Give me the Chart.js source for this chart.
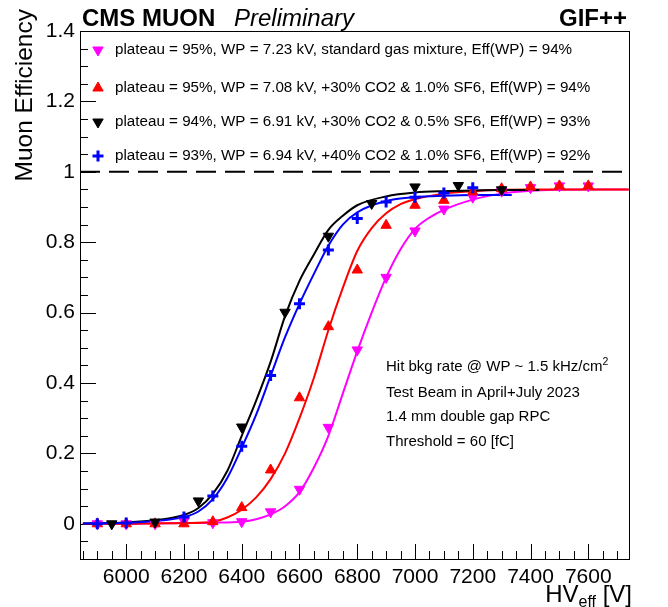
<!DOCTYPE html>
<html><head><meta charset="utf-8">
<script src="https://cdn.jsdelivr.net/npm/chart.js@4.4.0/dist/chart.umd.min.js"></script>
<style>html,body{margin:0;padding:0;background:#fff;}canvas{display:block;}</style>
</head><body>
<canvas id="c" width="668" height="607"></canvas>
<script>
// ---- measured points ----
const magentaHV  = [5900,6000,6100,6200,6300,6400,6500,6600,6700,6800,6900,7000,7100,7200,7300,7400,7500,7600];
const magentaEff = [0.000,0.000,0.000,0.008,0.003,0.006,0.034,0.098,0.274,0.494,0.700,0.832,0.894,0.928,0.945,0.955,0.960,0.960];
const redHV  = [5900,6000,6100,6200,6300,6400,6500,6600,6700,6800,6900,7000,7100,7200,7300,7400,7500,7600];
const redEff = [0.000,0.000,0.000,0.000,0.006,0.046,0.153,0.358,0.560,0.721,0.848,0.905,0.919,0.943,0.952,0.957,0.960,0.960];
const blackHV  = [5950,6100,6250,6400,6550,6700,6850,7000,7150,7300];
const blackEff = [0.000,0.005,0.065,0.275,0.601,0.817,0.910,0.957,0.961,0.949];
const blueHV  = [5900,6000,6200,6300,6400,6500,6600,6700,6800,6900,7000,7100,7200];
const blueEff = [0.000,0.002,0.019,0.079,0.220,0.421,0.625,0.778,0.867,0.914,0.928,0.940,0.955];

// ---- fit curves ----
const magentaFitHV  = [5850,6000,6100,6200,6300,6400,6450,6500,6550,6600,6650,6700,6750,6800,6850,6900,6950,7000,7050,7100,7200,7300,7400,7500,7600,7740];
const magentaFitEff = [0.000,0.000,0.001,0.002,0.003,0.006,0.013,0.027,0.050,0.090,0.160,0.250,0.370,0.490,0.600,0.700,0.780,0.838,0.870,0.892,0.921,0.938,0.946,0.949,0.950,0.950];
const redFitHV  = [5850,6000,6100,6200,6300,6350,6400,6450,6500,6550,6600,6650,6700,6750,6800,6850,6900,6950,7000,7100,7200,7300,7400,7500,7600,7740];
const redFitEff = [0.000,0.000,0.001,0.002,0.006,0.018,0.040,0.075,0.127,0.200,0.300,0.415,0.550,0.670,0.775,0.840,0.882,0.908,0.922,0.938,0.945,0.949,0.950,0.950,0.950,0.950];
const blackFitHV  = [5850,6000,6100,6200,6250,6300,6350,6400,6450,6500,6550,6600,6650,6700,6750,6800,6900,7000,7100,7200,7300,7430];
const blackFitEff = [0.001,0.004,0.010,0.025,0.045,0.085,0.150,0.250,0.350,0.460,0.590,0.690,0.765,0.835,0.875,0.905,0.930,0.941,0.945,0.947,0.948,0.948];
const blueFitHV  = [5850,6000,6100,6200,6250,6300,6350,6400,6450,6500,6550,6600,6650,6700,6750,6800,6900,7000,7100,7200,7335];
const blueFitEff = [0.001,0.003,0.008,0.019,0.035,0.070,0.130,0.216,0.310,0.420,0.530,0.625,0.710,0.790,0.850,0.885,0.917,0.928,0.932,0.934,0.934];

const referenceLineHV  = [5840,7741];
const referenceLineEff = [1,1];

// ---- ticks / labels ----
const xTickValues = [6000,6200,6400,6600,6800,7000,7200,7400,7600];
const xTickLabels = ["6000","6200","6400","6600","6800","7000","7200","7400","7600"];
const yTickValues = [0,0.2,0.4,0.6,0.8,1.0,1.2,1.4];
const yTickLabels = ["0","0.2","0.4","0.6","0.8","1","1.2","1.4"];
const legendLabels = [
  "plateau = 95%, WP = 7.23 kV, standard gas mixture, Eff(WP) = 94%",
  "plateau = 95%, WP = 7.08 kV, +30% CO2 & 1.0% SF6, Eff(WP) = 94%",
  "plateau = 94%, WP = 6.91 kV, +30% CO2 & 0.5% SF6, Eff(WP) = 93%",
  "plateau = 93%, WP = 6.94 kV, +40% CO2 & 1.0% SF6, Eff(WP) = 92%"
];
const infoLines = ["Hit bkg rate @ WP ~ 1.5 kHz/cm", "Test Beam in April+July 2023", "1.4 mm double gap RPC", "Threshold = 60 [fC]"];
const yTitle = "Muon Efficiency";
const xTitleMain = "HV", xTitleSub = "eff", xTitleUnit = " [V]";
const headerBold = "CMS MUON", headerItalic = "Preliminary", headerRight = "GIF++";

const X_MIN = 5840, X_MAX = 7741, Y_MIN = -0.1, Y_MAX = 1.4;
const FONT = "'Liberation Sans', Arial, Helvetica, sans-serif";

const zip = (xs, ys) => xs.map((x, i) => ({x, y: ys[i]}));

const MAG = '#ff00ff', RED = '#ff0000', BLK = '#000000', BLU = '#0000ff';

function pts(label, xs, ys, color, style, rot, r, bw, order) {
  return {label, data: zip(xs, ys), showLine: false, pointStyle: style, rotation: rot,
    pointRadius: r, pointHoverRadius: r, backgroundColor: color, borderColor: color,
    pointBorderWidth: bw, order};
}
function curve(label, xs, ys, color, order) {
  return {label, data: zip(xs, ys), showLine: true, pointRadius: 0, borderColor: color,
    backgroundColor: color, borderWidth: 2, cubicInterpolationMode: 'monotone', fill: false, order};
}

const datasets = [
  pts('blue', blueHV, blueEff, BLU, 'cross', 0, 5.5, 3, 0),
  pts('black', blackHV, blackEff, BLK, 'triangle', 180, 6, 1, 1),
  pts('red', redHV, redEff, RED, 'triangle', 0, 6, 1, 2),
  pts('magenta', magentaHV, magentaEff, MAG, 'triangle', 180, 6, 1, 3),
  curve('blueFit', blueFitHV, blueFitEff, BLU, 4),
  curve('blackFit', blackFitHV, blackFitEff, BLK, 5),
  curve('redFit', redFitHV, redFitEff, RED, 6),
  curve('magentaFit', magentaFitHV, magentaFitEff, MAG, 7),
  {label: 'ref', data: zip(referenceLineHV, referenceLineEff), showLine: true, pointRadius: 0,
   borderColor: '#000', borderWidth: 2, borderDash: [20, 9], order: 8}
];

const framePlugin = {
  id: 'frame',
  beforeDatasetsDraw(chart) {
    const {ctx, chartArea: a, scales: {x, y}} = chart;
    ctx.save();
    ctx.strokeStyle = '#000';
    ctx.lineWidth = 1;
    ctx.beginPath();
    for (let v = 5850; v <= X_MAX; v += 50) {
      const px = Math.round(x.getPixelForValue(v)) + 0.5;
      const len = (v % 200 === 0) ? 15 : 8;
      ctx.moveTo(px, a.bottom); ctx.lineTo(px, a.bottom - len);
    }
    for (let k = -2; k <= 28; k++) {
      const v = k * 0.05;
      const py = Math.round(y.getPixelForValue(v)) + 0.5;
      const len = (k % 4 === 0) ? 16 : 8;
      ctx.moveTo(a.left, py); ctx.lineTo(a.left + len, py);
    }
    ctx.stroke();
    ctx.strokeRect(Math.round(a.left) + 0.5, Math.round(a.top) + 0.5, Math.round(a.right - a.left), Math.round(a.bottom - a.top));
    ctx.restore();
  },
  afterDraw(chart) {
    const {ctx} = chart;
    ctx.save();
    ctx.fillStyle = '#000';
    ctx.textBaseline = 'alphabetic';
    ctx.font = `bold 24px ${FONT}`;
    ctx.textAlign = 'left';
    ctx.fillText(headerBold, 82, 26);
    ctx.font = `italic 24px ${FONT}`;
    ctx.fillText(headerItalic, 234, 26);
    ctx.font = `bold 24px ${FONT}`;
    ctx.textAlign = 'right';
    ctx.fillText(headerRight, 627, 26);

    ctx.save();
    ctx.translate(32, 9);
    ctx.rotate(-Math.PI / 2);
    ctx.font = `24.5px ${FONT}`;
    ctx.textAlign = 'right';
    ctx.fillText(yTitle, 0, 0);
    ctx.restore();

    ctx.textAlign = 'left';
    ctx.font = `24px ${FONT}`;
    const wMain = ctx.measureText(xTitleMain).width;
    const wUnit = ctx.measureText(xTitleUnit).width;
    ctx.font = `16px ${FONT}`;
    const wSub = ctx.measureText(xTitleSub).width;
    const xs = 632 - wMain - wSub - wUnit;
    const base = 602;
    ctx.font = `24px ${FONT}`;
    ctx.fillText(xTitleMain, xs, base);
    ctx.font = `16px ${FONT}`;
    ctx.fillText(xTitleSub, xs + wMain, base + 5);
    ctx.font = `24px ${FONT}`;
    ctx.fillText(xTitleUnit, xs + wMain + wSub, base);

    const rowsY = [50, 88, 122, 156];
    const dsIdx = [3, 2, 1, 0];
    ctx.font = `15.2px ${FONT}`;
    ctx.textBaseline = 'middle';
    rowsY.forEach((ry, i) => {
      const ds = chart.data.datasets[dsIdx[i]];
      ctx.fillStyle = ds.backgroundColor;
      ctx.strokeStyle = ds.borderColor;
      ctx.lineWidth = ds.pointBorderWidth;
      Chart.helpers.drawPoint(ctx, {pointStyle: ds.pointStyle, rotation: ds.rotation, radius: ds.pointRadius, borderWidth: ds.pointBorderWidth}, 98, ry);
      ctx.fillStyle = '#000';
      ctx.fillText(legendLabels[i], 115, ry);
    });

    ctx.font = `15px ${FONT}`;
    const infoY = [367, 393, 417, 442];
    infoLines.forEach((t, i) => {
      ctx.fillText(t, 386, infoY[i]);
      if (i === 0) {
        const w = ctx.measureText(t).width;
        ctx.font = `10.5px ${FONT}`;
        ctx.fillText('2', 386 + w, infoY[i] - 5);
        ctx.font = `15px ${FONT}`;
      }
    });
    ctx.restore();
  }
};

new Chart(document.getElementById('c'), {
  type: 'scatter',
  data: {datasets},
  options: {
    responsive: false,
    animation: false,
    devicePixelRatio: 1,
    layout: {padding: {left: 0, top: 31, right: 39, bottom: 0}},
    plugins: {legend: {display: false}, tooltip: {enabled: false}},
    scales: {
      x: {
        type: 'linear', min: X_MIN, max: X_MAX,
        grid: {display: false, drawTicks: false},
        border: {display: false},
        afterBuildTicks: s => { s.ticks = xTickValues.map(v => ({value: v})); },
        afterFit: s => { s.height = 48; },
        ticks: {
          color: '#000', padding: 6, maxRotation: 0, autoSkip: false,
          font: {family: FONT, size: 21},
          callback: (v) => xTickLabels[xTickValues.indexOf(v)] ?? ''
        }
      },
      y: {
        type: 'linear', min: Y_MIN, max: Y_MAX,
        grid: {display: false, drawTicks: false},
        border: {display: false},
        afterBuildTicks: s => { s.ticks = yTickValues.map(v => ({value: v})); },
        afterFit: s => { s.width = 80; },
        ticks: {
          color: '#000', padding: 5, autoSkip: false,
          font: {family: FONT, size: 21},
          callback: (v) => { const i = yTickValues.findIndex(t => Math.abs(t - v) < 1e-9); return i >= 0 ? yTickLabels[i] : ''; }
        }
      }
    }
  },
  plugins: [framePlugin]
});
</script>
</body></html>
